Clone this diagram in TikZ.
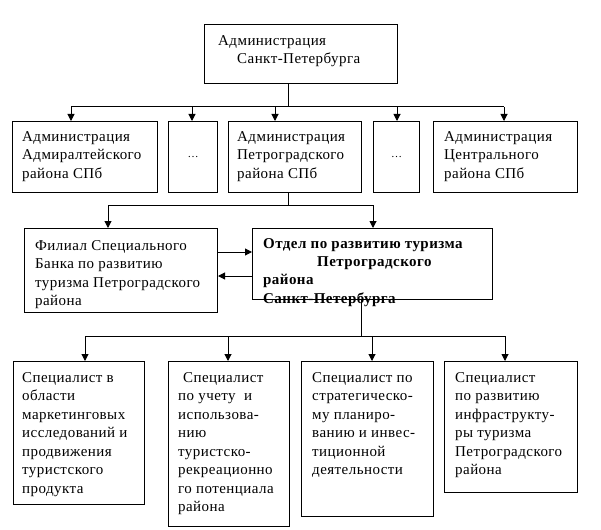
\documentclass[tikz,border=0pt]{standalone}
\usepackage{fontspec}
\setmainfont[LetterSpace=3]{Liberation Serif}
\usetikzlibrary{arrows.meta}
\begin{document}
\begin{tikzpicture}[x=1pt,y=-1pt,
  box/.style={draw,line width=1pt,rectangle,anchor=north west,inner sep=0pt},
  txt/.style={anchor=north west,inner sep=0pt,align=left,font=\fontsize{15}{18.5}\selectfont},
  ln/.style={line width=1pt},
  arr/.style={line width=1pt,-{Triangle[length=7pt,width=7pt]}},
  dotsf/.style={font=\fontsize{11}{13}\selectfont}]
\useasboundingbox[fill=white] (0,0) rectangle (601,529);
% boxes
\node[box,minimum width=193pt,minimum height=59pt] (adm) at (204,24) {};
\node[box,minimum width=145pt,minimum height=71pt] (b1) at (12,121) {};
\node[box,minimum width=49pt,minimum height=71pt] (d1) at (168,121) {};
\node[box,minimum width=133pt,minimum height=71pt] (b3) at (228,121) {};
\node[box,minimum width=46pt,minimum height=71pt] (d2) at (373,121) {};
\node[box,minimum width=144pt,minimum height=71pt] (b5) at (433,121) {};
\node[box,minimum width=193pt,minimum height=84pt] (fil) at (24,228) {};
\node[box,minimum width=240pt,minimum height=71pt] (otd) at (252,228) {};
\node[box,minimum width=131pt,minimum height=143pt] (s1) at (13,361) {};
\node[box,minimum width=121pt,minimum height=165pt] (s2) at (168,361) {};
\node[box,minimum width=132pt,minimum height=155pt] (s3) at (301,361) {};
\node[box,minimum width=133pt,minimum height=131pt] (s4) at (444,361) {};
% texts
\node[txt] (tadm) at (218,35) {Администрация\\\hspace*{19pt}Санкт-Петербурга};
\node[txt] (tb1) at (22,131) {Администрация\\Адмиралтейского\\района СПб};
\node[dotsf] (td1) at (d1.center) {…};
\node[txt] (tb3) at (237,131) {Администрация\\Петроградского\\района СПб};
\node[dotsf] (td2) at (d2.center) {…};
\node[txt] (tb5) at (444,131) {Администрация\\Центрального\\района СПб};
\node[txt] (tfil) at (35,240) {Филиал Специального\\Банка по развитию\\туризма Петроградского\\района};
\node[txt,font=\fontsize{15}{18.3}\selectfont\bfseries] (totd) at (263,238) {Отдел по развитию туризма\\\hspace*{54pt}Петроградского\\района\\Санкт-Петербурга};
\node[txt] (ts1) at (22,372) {Специалист в\\области\\маркетинговых\\исследований и\\продвижения\\туристского\\продукта};
\node[txt] (ts2) at (178,372) {\hspace*{5pt}Специалист\\по учету \ и\\использова-\\нию\\туристско-\\рекреационно\\го потенциала\\района};
\node[txt] (ts3) at (312,372) {Специалист по\\стратегическо-\\му планиро-\\ванию и инвес-\\тиционной\\деятельности};
\node[txt] (ts4) at (455,372) {Специалист\\по развитию\\инфраструкту-\\ры туризма\\Петроградского\\района};
% level 1 connectors
\coordinate (j1) at (288,107);
\coordinate (a1) at (71,107);
\coordinate (a2) at (192,107);
\coordinate (a3) at (275,107);
\coordinate (a4) at (397,107);
\coordinate (a5) at (504,107);
\draw[ln] (j1 |- adm.south) -- (j1);
\draw[ln] (a1) -- (a5);
\draw[arr] (a1) -- (a1 |- b1.north);
\draw[arr] (a2) -- (a2 |- d1.north);
\draw[arr] (a3) -- (a3 |- b3.north);
\draw[arr] (a4) -- (a4 |- d2.north);
\draw[arr] (a5) -- (a5 |- b5.north);
% level 2 connectors
\coordinate (j2) at (288,205);
\coordinate (c1) at (108,205);
\coordinate (c2) at (373,205);
\draw[ln] (j2 |- b3.south) -- (j2);
\draw[ln] (c1) -- (c2);
\draw[arr] (c1) -- (c1 |- fil.north);
\draw[arr] (c2) -- (c2 |- otd.north);
\coordinate (h1) at (0,252);
\coordinate (h2) at (0,276);
\draw[arr] (fil.east |- h1) -- (otd.west |- h1);
\draw[arr] (otd.west |- h2) -- (fil.east |- h2);
% level 3 connectors
\coordinate (j3) at (361,336);
\coordinate (e1) at (85,336);
\coordinate (e2) at (228,336);
\coordinate (e3) at (372,336);
\coordinate (e4) at (505,336);
\draw[ln] (j3 |- otd.south) -- (j3);
\draw[ln] (e1) -- (e4);
\draw[arr] (e1) -- (e1 |- s1.north);
\draw[arr] (e2) -- (e2 |- s2.north);
\draw[arr] (e3) -- (e3 |- s3.north);
\draw[arr] (e4) -- (e4 |- s4.north);
\end{tikzpicture}
\end{document}
